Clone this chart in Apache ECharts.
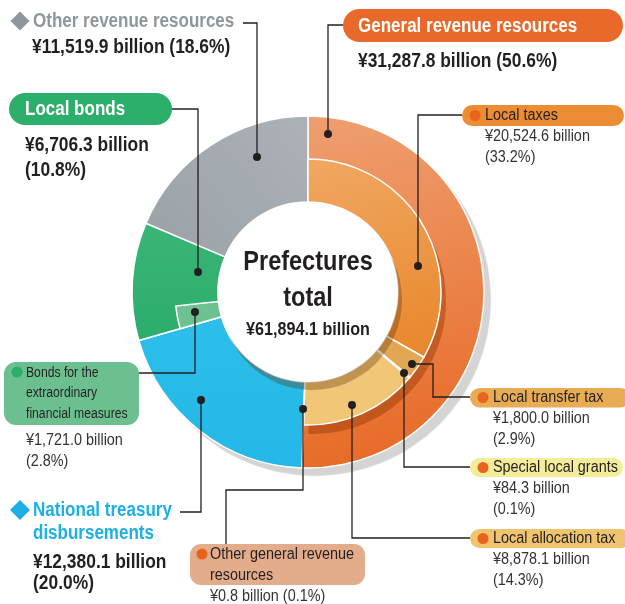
<!DOCTYPE html>
<html>
<head>
<meta charset="utf-8">
<script src="https://cdn.jsdelivr.net/npm/echarts@6/dist/echarts.min.js"></script>
<style>html,body{margin:0;padding:0;background:#fff}#main{width:625px;height:604px}</style>
</head>
<body>
<div id="main"></div>
<script>
// breakdown of prefectural revenue, ¥ billion
var mainNames = ['General revenue resources', 'National treasury\ndisbursements', 'Local bonds', 'Other revenue resources'];
var mainValues = [31287.8, 12380.1, 6706.3, 11519.9];
var mainShares = [50.6, 20.0, 10.8, 18.6];

var subNames = ['Local taxes', 'Local transfer tax', 'Special local grants', 'Local allocation tax', 'Other general revenue\nresources'];
var subValues = [20524.6, 1800.0, 84.3, 8878.1, 0.8];
var subShares = [33.2, 2.9, 0.1, 14.3, 0.1];

var bondName = 'Bonds for the\nextraordinary\nfinancial measures';
var bondValue = 1721.0;
var bondShare = 2.8;

var centerTitle = ['Prefectures', 'total'];
var totalValue = 61894.1;

var C = [308, 292];
var ink = '#231F20';
var FONT = '"Liberation Sans", Arial, sans-serif';

function grad(a, b, x, y, x2, y2) {
    return {type: 'linear', x: x || 0, y: y || 0, x2: x2 === undefined ? 0 : x2, y2: y2 === undefined ? 1 : y2,
        colorStops: [{offset: 0, color: a}, {offset: 1, color: b}]};
}
function yen(v) {
    return '¥' + v.toLocaleString('en-US', {minimumFractionDigits: 1, maximumFractionDigits: 1}) + ' billion';
}
function pct(p) { return '(' + p.toFixed(1) + '%)'; }

var mainColors = [
    grad('#EF9E6F', '#E76925', 0.2, 0, 0.6, 1),
    grad('#2DBFEA', '#25B7E6'),
    grad('#3AB576', '#2CAD6B'),
    grad('#ACB2B7', '#9AA1A7', 1, 0, 0, 1)
];
var subColors = [grad('#F0A862', '#E9892F', 0, 0, 0.4, 1), '#E2A755', '#F3EC98', '#F1C677', '#E3AD8C'];
var bondColor = '#6EC291';

var blank = {color: 'rgba(0,0,0,0)', borderWidth: 0};

function innerData(shade) {
    var d = subValues.map(function (v, i) {
        var st = shade ? {color: 'rgba(140,50,0,0.42)', borderWidth: 0} : {color: subColors[i]};
        return {value: v, name: subNames[i], itemStyle: st};
    });
    d.push({value: mainValues[1], itemStyle: blank});
    d.push({value: bondValue, name: bondName, itemStyle: shade ? blank : {color: bondColor}});
    d.push({value: mainValues[2] - bondValue + mainValues[3], itemStyle: blank});
    return d;
}

var outerData = mainValues.map(function (v, i) {
    return {value: v, name: mainNames[i], itemStyle: {color: mainColors[i]}};
});

// callout graphics
var els = [];
function txt(x, y, s, size, bold, color, sx, align) {
    els.push({type: 'text', x: x, y: y, scaleX: sx, z: 60, silent: true,
        style: {text: s, font: (bold ? 'bold ' : '') + size + 'px ' + FONT, fill: color,
            align: align || 'left', verticalAlign: 'middle'}});
}
function lines(x, y, s, step, size, bold, color, sx) {
    s.split('\n').forEach(function (l, k) { txt(x, y + k * step, l, size, bold, color, sx); });
}
function pill(x, y, w, h, r, color) {
    els.push({type: 'rect', z: 55, silent: true, shape: {x: x, y: y, width: w, height: h, r: r}, style: {fill: color}});
}
function spot(x, y, r, color) {
    els.push({type: 'circle', z: 62, silent: true, shape: {cx: x, cy: y, r: r}, style: {fill: color}});
}
function diamond(x, y, h, color) {
    els.push({type: 'polygon', z: 60, silent: true, shape: {points: [[x, y - h], [x + h, y], [x, y + h], [x - h, y]]}, style: {fill: color}});
}
function leader(pts) {
    els.push({type: 'polyline', z: 58, silent: true, shape: {points: pts}, style: {stroke: ink, lineWidth: 1.3, fill: null}});
    spot(pts[0][0], pts[0][1], 4, ink);
}

// main categories
diamond(20, 21, 9.5, '#8E979D');
txt(33, 21, mainNames[3], 20, true, '#8E979D', 0.85);
txt(32, 47, yen(mainValues[3]) + ' ' + pct(mainShares[3]), 20, true, ink, 0.87);
leader([[257, 157], [257, 23], [243, 23]]);

pill(9, 93, 163, 32, 16, '#2BAF6B');
txt(25, 109.5, mainNames[2], 20, true, '#fff', 0.85);
txt(25, 145, yen(mainValues[2]), 20, true, ink, 0.87);
txt(25, 170, pct(mainShares[2]), 20, true, ink, 0.87);
leader([[198, 272], [198, 109], [172, 109]]);

pill(343, 9, 280, 33, 16.5, '#E8692A');
txt(358, 26, mainNames[0], 20, true, '#fff', 0.85);
txt(358, 61, yen(mainValues[0]) + ' ' + pct(mainShares[0]), 20, true, ink, 0.87);
leader([[328, 134], [328, 25], [343, 25]]);

diamond(20, 510, 10, '#1DAFE6');
lines(33, 510, mainNames[1], 23, 20, true, '#1DAFE6', 0.85);
txt(33, 562, yen(mainValues[1]), 20, true, ink, 0.87);
txt(33, 583, pct(mainShares[1]), 20, true, ink, 0.87);
leader([[201, 400], [201, 512], [180, 512]]);

// sub items of general revenue resources
var subBox = [
    {pill: [462, 105, 162, 21, 10.5, '#EC8C33'], y: 115.5, lead: [[418, 266], [418, 115], [462, 115]]},
    {pill: [470, 388, 160, 19.5, 9.75, '#E8AC55'], y: 397.5, lead: [[412, 364], [433, 364], [433, 397], [470, 397]]},
    {pill: [470, 458, 153, 19, 9.5, '#F3EC98'], y: 467.5, lead: [[404, 373], [404, 467], [470, 467]]},
    {pill: [470, 529, 160, 19, 9.5, '#F0C36E'], y: 538.5, lead: [[352, 405], [352, 538], [470, 538]]}
];
subBox.forEach(function (b, i) {
    var p = b.pill;
    pill(p[0], p[1], p[2], p[3], p[4], p[5]);
    spot(p[0] + 13, b.y, 5.5, '#E8641E');
    txt(p[0] + 23, b.y, subNames[i], 16, false, ink, 0.9);
    txt(p[0] + 23, b.y + 21, yen(subValues[i]), 16, false, '#333', 0.9);
    txt(p[0] + 23, b.y + 42, pct(subShares[i]), 16, false, '#333', 0.9);
    leader(b.lead);
});

pill(190, 544, 175, 41, 11, '#E3AD8C');
spot(202, 554, 5.5, '#E8641E');
lines(210, 555, subNames[4], 21, 16, false, ink, 0.9);
txt(210, 597, yen(subValues[4]) + ' ' + pct(subShares[4]), 16, false, '#333', 0.9);
leader([[303, 409], [303, 490], [226, 490], [226, 544]]);

pill(4, 362, 135, 63, 12, '#6CC08F');
spot(17, 372, 5.5, '#2BAF6B');
lines(26, 373, bondName, 20.5, 14, false, ink, 0.87);
txt(26, 441, yen(bondValue), 16, false, '#333', 0.9);
txt(26, 462, pct(bondShare), 16, false, '#333', 0.9);
leader([[195, 312], [195, 373], [139, 373]]);

// centre caption
txt(C[0], 262, centerTitle[0], 28, true, ink, 0.84, 'center');
txt(C[0], 298, centerTitle[1], 28, true, ink, 0.84, 'center');
txt(C[0], 330, '¥' + totalValue.toLocaleString('en-US', {minimumFractionDigits: 1}) + ' billion', 19, true, ink, 0.85, 'center');

var myChart = echarts.init(document.getElementById('main'));

var common = {type: 'pie', center: C, startAngle: 90, clockwise: true, silent: true,
    label: {show: false}, labelLine: {show: false}, emphasis: {disabled: true}};

myChart.setOption({
    animation: false,
    series: [
        Object.assign({}, common, {
            name: 'base', radius: [0, 176], z: 1,
            data: [{value: totalValue, itemStyle: {color: '#fff', shadowColor: '#D4D4D4', shadowOffsetX: 7, shadowOffsetY: 8, shadowBlur: 1}}]
        }),
        Object.assign({}, common, {
            name: 'main', radius: [90, 176], z: 2,
            itemStyle: {borderColor: '#fff', borderWidth: 1.5},
            data: outerData
        }),
        // dropped shade of the inner ring, offset down-right
        Object.assign({}, common, {
            name: 'detail shade', radius: [90, 133], z: 3, center: [C[0] + 5, C[1] + 9],
            data: innerData(true)
        }),
        Object.assign({}, common, {
            name: 'detail', radius: [90, 133], z: 4,
            itemStyle: {borderColor: '#fff', borderWidth: 1.5},
            data: innerData(false)
        }),
        // dropped shade of the centre disc
        Object.assign({}, common, {
            name: 'hole shade', radius: [0, 90], z: 5, center: [C[0] + 4, C[1] + 8],
            data: [{value: totalValue, itemStyle: {color: 'rgba(90,45,0,0.32)'}}]
        }),
        Object.assign({}, common, {
            name: 'hole', radius: [0, 90], z: 6,
            data: [{value: totalValue, itemStyle: {color: '#fff'}}]
        })
    ],
    graphic: {elements: els}
});
</script>
</body>
</html>
